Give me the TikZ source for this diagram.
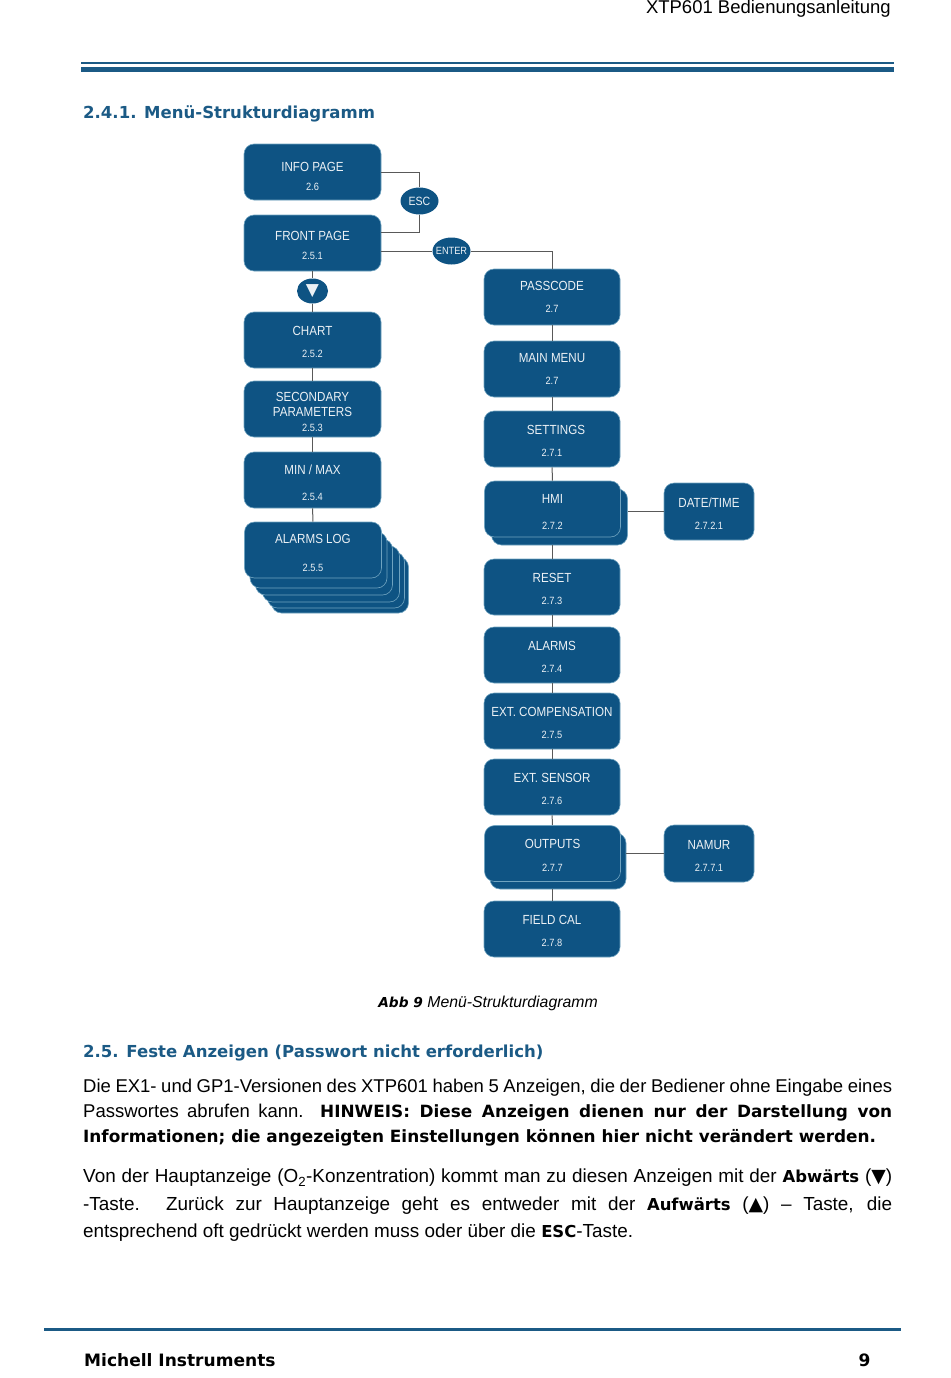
\documentclass[tikz,border=0pt]{standalone}
\usepackage{fontspec}
\setmainfont{Liberation Sans}[BoldFont={DejaVu Sans Bold},BoldItalicFont={DejaVu Sans Bold Oblique},BoldFeatures={Scale=0.87},BoldItalicFeatures={Scale=0.87}]
\newfontfamily\symfont{DejaVu Sans}
\newfontfamily\menufont{Liberation Sans}[FakeStretch=0.88]
\definecolor{menublue}{HTML}{0E5383}
\definecolor{menuedge}{HTML}{6FA3C0}
\definecolor{headblue}{HTML}{1B5A85}
\newcommand{\menunumber}[1]{{\fontsize{10.5}{11}\selectfont #1}}
\newcommand{\menulabel}[2]{\rule{0pt}{13pt}#1\\[7pt]\menunumber{#2}}
\newcommand{\parabold}[1]{{\bfseries\fontsize{19.4}{25}\selectfont #1}}
\tikzset{
    menubox/.style={rectangle, rounded corners=10pt, fill=menublue, draw=menuedge, line width=0.6pt, text=white!92!menublue, minimum width=137pt, minimum height=56pt, inner sep=0pt, align=center, font=\menufont\fontsize{13.2}{15}\selectfont},
    sidebox/.style={menubox, minimum width=90pt, minimum height=57pt},
    keyoval/.style={ellipse, fill=menublue, text=white!92!menublue, inner sep=0pt, minimum width=38pt, minimum height=27pt, font=\menufont\fontsize{12}{14}\selectfont},
    link/.style={draw=black!65, line width=1pt},
    pagetext/.style={inner sep=0pt, anchor=north west, text width=809pt, align=justify, font=\fontsize{18.5}{25}\selectfont}
}
\usetikzlibrary{shapes.geometric}
\begin{document}
\begin{tikzpicture}[x=1pt, y=-1pt]
    \useasboundingbox (0,0) rectangle (950,1378);
    \node[inner sep=0pt, anchor=east, font=\fontsize{18.5}{22}\selectfont] (manual) at (891,9) {XTP601 Bedienungsanleitung};
    \fill[headblue] (81,62) rectangle (894,64.3);
    \fill[headblue] (81,66.8) rectangle (894,72.4);
    \node[inner sep=0pt, anchor=west, text=headblue, font=\bfseries\fontsize{19}{22}\selectfont] (heading) at (83,114) {2.4.1. Menü-Strukturdiagramm};
    % left column
    \node[menubox] (info) at (312.5,172) {\rule{0pt}{19pt}INFO PAGE\\[4pt]\menunumber{2.6}};
    \node[menubox] (front) at (312.5,243) {\rule{0pt}{15pt}FRONT PAGE\\[4pt]\menunumber{2.5.1}};
    \node[keyoval, minimum width=31pt, minimum height=25pt] (down) at (312.5,291) {\symfont\fontsize{17}{17}\selectfont ▼};
    \node[menubox] (chart) at (312.5,340) {\menulabel{CHART}{2.5.2}};
    \node[menubox] (secondary) at (312.5,409) {\rule{0pt}{15pt}SECONDARY\\[0.5pt]PARAMETERS\\[-0.5pt]\menunumber{2.5.3}};
    \node[menubox] (minmax) at (312.5,480) {\rule{0pt}{16pt}MIN / MAX\\[11pt]\menunumber{2.5.4}};
    \foreach \layer/\dx/\dy in {5/27/35, 4/23/30, 3/18/24, 2/11/17, 1/5.5/10}
        \node[menubox] (alarmslog\layer) at (313+\dx,550+\dy) {};
    \node[menubox] (alarmslog) at (313,550) {\rule{0pt}{16pt}ALARMS LOG\\[13pt]\menunumber{2.5.5}};
    % right column
    \node[menubox, minimum width=136pt] (passcode) at (552,297) {PASSCODE\\[7pt]\menunumber{2.7}};
    \node[menubox, minimum width=136pt] (mainmenu) at (552,369) {MAIN MENU\\[7pt]\menunumber{2.7}};
    \node[menubox, minimum width=136pt] (settings) at (552,439) {\menulabel{\hspace*{8pt}SETTINGS}{2.7.1}};
    \node[menubox, minimum width=136pt] (hmilayer) at (559.5,517) {};
    \node[menubox, minimum width=136pt] (hmi) at (552.5,509) {\rule{0pt}{14pt}HMI\\[11pt]\menunumber{2.7.2}};
    \node[menubox, minimum width=136pt] (reset) at (552,587) {\menulabel{RESET}{2.7.3}};
    \node[menubox, minimum width=136pt] (alarms) at (552,655) {\menulabel{ALARMS}{2.7.4}};
    \node[menubox, minimum width=136pt] (extcomp) at (552,721) {\menulabel{EXT. COMPENSATION}{2.7.5}};
    \node[menubox, minimum width=136pt] (extsensor) at (552,787) {\menulabel{EXT. SENSOR}{2.7.6}};
    \node[menubox, minimum width=136pt] (outputslayer) at (558,861) {};
    \node[menubox, minimum width=136pt] (outputs) at (552.5,853.5) {\rule{0pt}{12pt}OUTPUTS\\[8pt]\menunumber{2.7.7}};
    \node[menubox, minimum width=136pt] (fieldcal) at (552,929) {\menulabel{FIELD CAL}{2.7.8}};
    \node[sidebox] (datetime) at (709,511.5) {\menulabel{DATE/TIME}{2.7.2.1}};
    \node[sidebox] (namur) at (709,853.5) {\menulabel{NAMUR}{2.7.7.1}};
    % keys
    \node[keyoval] (esc) at (419.5,201) {ESC};
    \node[keyoval, inner xsep=-6pt, font=\menufont\fontsize{10.5}{12}\selectfont] (enter) at (451.5,251) {ENTER};
    \coordinate (frontesc) at (381,232);
    \coordinate (frontenter) at (381,251);
    \draw[link] (info.east) -| (esc.north);
    \draw[link] (frontesc) -| (esc.south);
    \draw[link] (frontenter) -- (enter.west);
    \draw[link] (enter.east) -| (passcode.north);
    \draw[link] (front) -- (down);
    \draw[link] (down) -- (chart);
    \draw[link] (chart) -- (secondary);
    \draw[link] (secondary) -- (minmax);
    \draw[link] (minmax) -- (alarmslog);
    \draw[link] (passcode) -- (mainmenu);
    \draw[link] (mainmenu) -- (settings);
    \draw[link] (settings) -- (hmi);
    \draw[link] (reset.north |- hmilayer.south) -- (reset.north);
    \draw[link] (reset) -- (alarms);
    \draw[link] (alarms) -- (extcomp);
    \draw[link] (extcomp) -- (extsensor);
    \draw[link] (extsensor) -- (outputs);
    \draw[link] (fieldcal.north |- outputslayer.south) -- (fieldcal.north);
    \draw[link] (datetime.west -| hmilayer.east) -- (datetime.west);
    \draw[link] (namur.west -| outputslayer.east) -- (namur.west);
    % page text
    \node[inner sep=0pt, font=\itshape\fontsize{15.8}{18}\selectfont] (caption) at (488,1003) {\textbf{Abb 9} Menü-Strukturdiagramm};
    \node[inner sep=0pt, anchor=west, text=headblue, font=\bfseries\fontsize{19}{22}\selectfont] (section) at (83,1053) {2.5. Feste Anzeigen (Passwort nicht erforderlich)};
    \node[pagetext] (para1) at (83,1079) {Die EX1- und GP1-Versionen des XTP601 haben 5 Anzeigen, die der Bediener ohne Eingabe eines\linebreak Passwortes abrufen kann. \parabold{HINWEIS: Diese Anzeigen dienen nur der Darstellung von}\linebreak \parabold{Informationen; die angezeigten Einstellungen können hier nicht verändert werden.}};
    \node[pagetext, font=\fontsize{18.9}{27.5}\selectfont] (para2) at (83,1169) {Von der Hauptanzeige (O\textsubscript{2}-Konzentration) kommt man zu diesen Anzeigen mit der \textbf{Abwärts} ({\symfont ▼})\linebreak -Taste. Zurück zur Hauptanzeige geht es entweder mit der \textbf{Aufwärts} ({\symfont ▲}) – Taste, die\linebreak entsprechend oft gedrückt werden muss oder über die \textbf{ESC}-Taste.};
    \fill[headblue] (44,1327.5) rectangle (901,1331);
    \node[inner sep=0pt, anchor=west, font=\bfseries\fontsize{19.6}{22}\selectfont] (company) at (84,1360) {Michell Instruments};
    \node[inner sep=0pt, font=\bfseries\fontsize{19.6}{22}\selectfont] (pageno) at (864.5,1360) {9};
\end{tikzpicture}
\end{document}
